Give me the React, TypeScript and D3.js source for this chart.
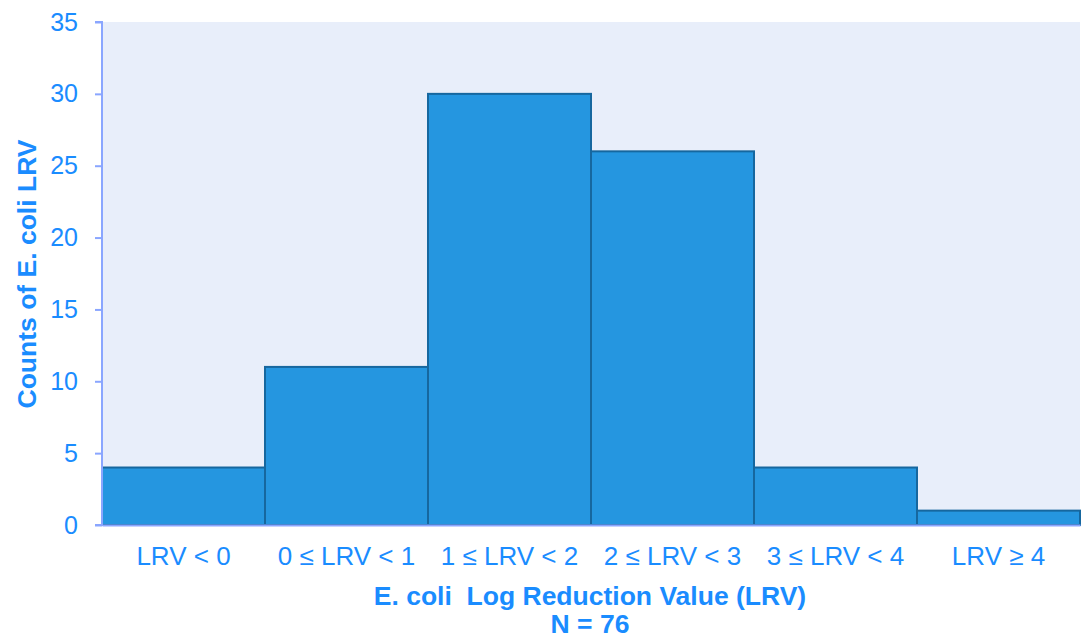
import React, { useEffect, useRef } from "react";
import * as d3 from "d3";

const categories = ["LRV < 0", "0 ≤ LRV < 1", "1 ≤ LRV < 2", "2 ≤ LRV < 3", "3 ≤ LRV < 4", "LRV ≥ 4"];
const counts = [4, 11, 30, 26, 4, 1];
const yTicks = [0, 5, 10, 15, 20, 25, 30, 35];

const App = () => {
  const ref = useRef<SVGSVGElement>(null);

  useEffect(() => {
    const width = 1085;
    const height = 638;
    const margin = { top: 22, right: 5, bottom: 113, left: 102 };
    const innerW = width - margin.left - margin.right;
    const innerH = height - margin.top - margin.bottom;
    const blue = "#1a8cff";
    const font = "'Liberation Sans', Arial, sans-serif";

    const svg = d3.select(ref.current);
    svg.selectAll("*").remove();

    const g = svg.append("g").attr("transform", `translate(${margin.left},${margin.top})`);

    const x = d3.scaleBand<string>().domain(categories).range([0, innerW]).padding(0);
    const y = d3.scaleLinear().domain([0, 35]).range([innerH, 0]);

    g.append("rect")
      .attr("width", innerW)
      .attr("height", innerH)
      .attr("fill", "#e8eefa");

    g.selectAll(".bar")
      .data(counts)
      .enter()
      .append("rect")
      .attr("class", "bar")
      .attr("x", (d, i) => x(categories[i])!)
      .attr("width", x.bandwidth())
      .attr("y", (d) => y(d))
      .attr("height", (d) => innerH - y(d))
      .attr("fill", "#2596e0")
      .attr("stroke", "#16679f")
      .attr("stroke-width", 2);

    // y axis
    const yAxis = g
      .append("g")
      .call(d3.axisLeft(y).tickValues(yTicks).tickSize(7).tickPadding(17));
    yAxis.select(".domain").attr("stroke", "#8aa6ff").attr("stroke-width", 2).attr("d", `M-7,0H0V${innerH}H-7`);
    yAxis.selectAll(".tick line").attr("stroke", "#8aa6ff").attr("stroke-width", 2);
    yAxis.selectAll(".tick text").attr("fill", blue).style("font-size", "25px").style("font-family", font);

    // x axis
    const xAxis = g
      .append("g")
      .attr("transform", `translate(0,${innerH})`)
      .call(d3.axisBottom(x).tickSize(0).tickPadding(22));
    xAxis.select(".domain").attr("stroke", "#8aa6ff").attr("stroke-width", 2);
    xAxis.selectAll(".tick text").attr("fill", blue).style("font-size", "26px").style("font-family", font);

    svg.append("text")
      .attr("x", 590)
      .attr("y", 605)
      .attr("text-anchor", "middle")
      .attr("fill", blue)
      .style("font-size", "26.5px")
      .style("font-weight", "bold")
      .style("font-family", font)
      .style("white-space", "pre")
      .text("E. coli  Log Reduction Value (LRV)");

    svg.append("text")
      .attr("x", 590)
      .attr("y", 633)
      .attr("text-anchor", "middle")
      .attr("fill", blue)
      .style("font-size", "26.5px")
      .style("font-weight", "bold")
      .style("font-family", font)
      .text("N = 76");

    svg.append("text")
      .attr("transform", `translate(36,274) rotate(-90)`)
      .attr("text-anchor", "middle")
      .attr("fill", blue)
      .style("font-size", "26.5px")
      .style("font-weight", "bold")
      .style("font-family", font)
      .text("Counts of E. coli LRV");
  }, []);

  return (
    <div style={{ width: "100%" }}>
      <svg ref={ref} width={1085} height={638} style={{ display: "block", position: "absolute", left: 0, top: 0 }}></svg>
    </div>
  );
};

export default App;
